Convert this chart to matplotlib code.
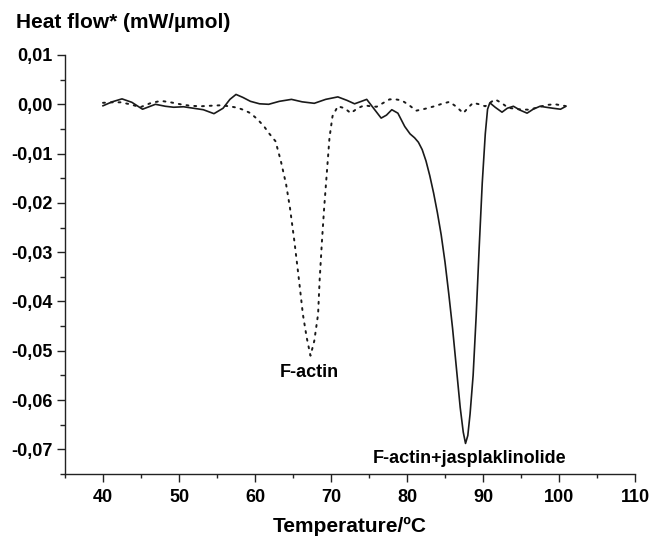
import matplotlib
matplotlib.use("Agg")
import matplotlib.pyplot as plt
from matplotlib.ticker import MultipleLocator, FuncFormatter

# F-actin + jasplaklinolide (solid)
jasp_T = [40.0, 41.2, 42.5, 43.8, 45.2, 46.9, 48.2, 49.3, 50.6, 51.9, 53.2, 54.6, 55.8, 56.7,
          57.5, 58.4, 59.4, 60.6, 61.8, 63.2, 64.8, 66.2, 67.8, 69.3, 70.9, 72.1, 73.1, 74.0,
          74.7, 75.6, 76.6, 77.3, 78.0, 78.8, 79.7, 80.4, 81.0, 81.5, 82.0, 82.5, 83.0, 83.5,
          84.0, 84.5, 85.0, 85.5, 86.0, 86.5, 87.0, 87.4, 87.7, 88.0, 88.3, 88.7, 89.1, 89.5,
          89.9, 90.3, 90.6, 90.9, 91.6, 92.5, 93.2, 94.0, 94.9, 95.8, 96.6, 97.5, 98.3, 99.2,
          100.2, 100.8]
jasp_H = [-0.0003, 0.0005, 0.0011, 0.0004, -0.0010, 0.0000, -0.0004, -0.0006, -0.0005, -0.0008, -0.0011, -0.0019, -0.0008, 0.0010,
          0.0020, 0.0014, 0.0006, 0.0001, 0.0000, 0.0006, 0.0010, 0.0005, 0.0002, 0.0010, 0.0015, 0.0008, 0.0001, 0.0006,
          0.0010, -0.0008, -0.0028, -0.0022, -0.0011, -0.0018, -0.0045, -0.0060, -0.0068, -0.0077, -0.0092, -0.0115, -0.0145, -0.0180,
          -0.0220, -0.0265, -0.0320, -0.0385, -0.0455, -0.0535, -0.0615, -0.0665, -0.0688, -0.0672, -0.0628, -0.0550, -0.0430, -0.0290,
          -0.0160, -0.0060, -0.0010, 0.0003, -0.0006, -0.0016, -0.0008, -0.0004, -0.0012, -0.0018, -0.0010, -0.0004, -0.0006, -0.0008,
          -0.0010, -0.0005]

# F-actin (dotted)
actin_T = [40.0, 41.2, 42.3, 43.6, 44.9, 46.2, 47.6, 48.9, 50.2, 51.5, 52.8, 54.1, 55.5, 56.6,
           57.7, 58.6, 59.4, 60.3, 61.2, 61.8, 62.7, 63.4, 64.1, 64.6, 65.2, 65.8, 66.3, 66.8,
           67.3, 67.8, 68.3, 68.5, 68.8, 69.1, 69.5, 69.8, 70.2, 70.9, 71.8, 72.6, 73.5, 74.4,
           75.2, 76.0, 76.9, 77.7, 78.5, 79.3, 80.3, 81.2, 82.4, 83.6, 84.6, 85.6, 86.5, 87.4,
           88.1, 88.7, 89.5, 90.3, 91.0, 91.6, 92.5, 93.3, 94.6, 96.0, 96.8, 97.7, 98.6, 99.5, 100.3, 101.0]
actin_H = [0.0003, 0.0004, 0.0004, 0.0000, -0.0006, 0.0002, 0.0007, 0.0004, 0.0000, -0.0003, -0.0004, -0.0003, -0.0002, -0.0004,
           -0.0007, -0.0012, -0.0018, -0.0030, -0.0045, -0.0058, -0.0075, -0.0115, -0.0163, -0.0210, -0.0280, -0.0358, -0.0426, -0.0473,
           -0.0510, -0.0480, -0.0426, -0.0358, -0.0280, -0.0210, -0.0129, -0.0068, -0.0024, -0.0004, -0.0008, -0.0018, -0.0008, -0.0002,
           -0.0004, -0.0005, 0.0003, 0.0010, 0.0010, 0.0008, -0.0002, -0.0013, -0.0009, -0.0004, 0.0001, 0.0005, -0.0005, -0.0018,
           -0.0006, 0.0003, 0.0000, -0.0004, 0.0004, 0.0010, 0.0002, -0.0007, -0.0010, -0.0011, -0.0008, -0.0004, -0.0001, 0.0000, -0.0002, -0.0004]

x_ticks = [40, 50, 60, 70, 80, 90, 100, 110]
y_ticks = [-0.07, -0.06, -0.05, -0.04, -0.03, -0.02, -0.01, 0.00, 0.01]

FONT = "Liberation Sans"
plt.rcParams["font.family"] = [FONT, "DejaVu Sans"]

fig = plt.figure(figsize=(6.52, 5.36), dpi=100)
ax = fig.add_axes([65 / 652, 1 - 474 / 536, (635 - 65) / 652, (474 - 55) / 536])

ax.plot(jasp_T, jasp_H, color="#1a1a1a", lw=1.2, solid_joinstyle="round")
ax.plot(actin_T, actin_H, color="#1a1a1a", lw=1.4, linestyle=(0, (1, 3.0)),
        dash_capstyle="round")

ax.set_xlim(35, 110)
ax.set_ylim(-0.075, 0.01)
ax.set_xticks(x_ticks)
ax.set_yticks(y_ticks)
ax.xaxis.set_minor_locator(MultipleLocator(5))
ax.yaxis.set_minor_locator(MultipleLocator(0.005))

def fmt(v, pos):
    v = round(v, 4)
    if abs(v) < 1e-9:
        v = 0.0
    return f"{v:.2f}".replace(".", ",")

ax.yaxis.set_major_formatter(FuncFormatter(fmt))

for s in ["top", "right"]:
    ax.spines[s].set_visible(False)
for s in ["left", "bottom"]:
    ax.spines[s].set_linewidth(1.0)
    ax.spines[s].set_color("#222222")

ax.tick_params(axis="both", which="major", direction="out", length=6, width=1.0,
               color="#222222", labelsize=13)
ax.tick_params(axis="x", which="major", pad=5)
ax.tick_params(axis="y", which="major", pad=3)
ax.tick_params(axis="y", which="minor", direction="out", length=3.5, width=1.0, color="#222222")
ax.tick_params(axis="x", which="minor", direction="out", length=3, width=1.0, color="#222222")
for lab in ax.get_xticklabels() + ax.get_yticklabels():
    lab.set_fontweight("bold")

ax.set_xlabel("Temperature/ºC", fontsize=15, fontweight="bold", labelpad=8)
fig.text(16 / 652, 1 - 22 / 536, "Heat flow* (mW/µmol)", fontsize=15, fontweight="bold",
         ha="left", va="center")

ax.text(67.2, -0.0545, "F-actin", fontsize=13, fontweight="bold", ha="center", va="center")
ax.text(88.2, -0.0718, "F-actin+jasplaklinolide", fontsize=13, fontweight="bold",
        ha="center", va="center")

fig.savefig("out.png", dpi=100)
